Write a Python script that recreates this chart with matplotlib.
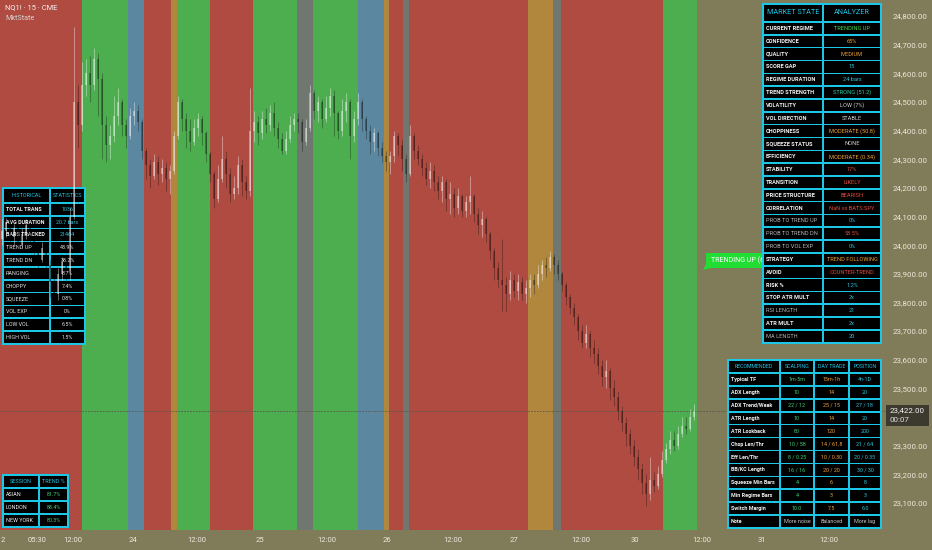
import matplotlib
matplotlib.use('Agg')
import matplotlib.pyplot as plt
from matplotlib.patches import Rectangle, Polygon
from matplotlib.transforms import Affine2D

plt.rcParams['font.family'] = ['Roboto', 'DejaVu Sans']

# ---------------- data ----------------
bar_open = [24020, 24050, 24080, 24030, 24060, 24000, 24040, 24070, 24020, 23990,
            23950, 23990, 23930, 23870, 23830, 23900, 23940, 23910, 24100, 24500,
            24420, 24560, 24600, 24560, 24650, 24580, 24420, 24350, 24380, 24450,
            24500, 24420, 24380, 24450, 24470, 24430, 24330, 24280, 24240, 24290,
            24250, 24270, 24230, 24260, 24380, 24500, 24440, 24400, 24360, 24410,
            24440, 24390, 24320, 24250, 24160, 24230, 24300, 24250, 24180, 24200,
            24280, 24220, 24190, 24400, 24430, 24390, 24440, 24420, 24460, 24410,
            24370, 24330, 24370, 24420, 24440, 24430, 24360, 24410, 24530, 24470,
            24500, 24440, 24480, 24520, 24460, 24400, 24470, 24500, 24380, 24440,
            24500, 24440, 24400, 24360, 24390, 24340, 24310, 24290, 24310, 24380,
            24350, 24300, 24250, 24380, 24330, 24300, 24270, 24230, 24260, 24220,
            24190, 24220, 24160, 24180, 24130, 24170, 24120, 24150, 24170, 24110,
            24070, 24090, 24040, 23980, 23920, 23880, 23860, 23830, 23880, 23840,
            23870, 23830, 23850, 23880, 23860, 23900, 23930, 23920, 23960, 23930,
            23900, 23860, 23820, 23780, 23750, 23700, 23660, 23690, 23640, 23620,
            23580, 23540, 23560, 23500, 23470, 23420, 23380, 23340, 23300, 23260,
            23220, 23170, 23130, 23180, 23160, 23200, 23250, 23290, 23320, 23300,
            23340, 23370, 23360, 23400]
bar_high = [24090, 24095, 24100, 24075, 24070, 24060, 24090, 24080, 24040, 24000,
            24010, 24000, 23950, 23900, 23920, 23960, 23970, 24130, 24760, 24560,
            24640, 24650, 24660, 24690, 24670, 24600, 24450, 24420, 24520, 24550,
            24510, 24440, 24480, 24500, 24490, 24440, 24340, 24300, 24320, 24310,
            24300, 24290, 24280, 24400, 24520, 24510, 24460, 24440, 24440, 24460,
            24450, 24400, 24330, 24260, 24280, 24380, 24330, 24270, 24240, 24310,
            24300, 24240, 24550, 24470, 24450, 24470, 24480, 24490, 24500, 24430,
            24390, 24400, 24450, 24460, 24460, 24440, 24440, 24560, 24540, 24520,
            24510, 24520, 24550, 24540, 24470, 24510, 24530, 24510, 24470, 24530,
            24510, 24450, 24420, 24410, 24400, 24360, 24330, 24330, 24400, 24390,
            24370, 24320, 24420, 24390, 24350, 24320, 24290, 24290, 24280, 24240,
            24240, 24230, 24220, 24200, 24200, 24180, 24170, 24240, 24180, 24130,
            24120, 24100, 24050, 23990, 23940, 24020, 23890, 23910, 23900, 23900,
            23890, 23880, 23900, 23900, 23930, 23950, 23960, 23980, 23970, 23950,
            23910, 23870, 23830, 23800, 23760, 23720, 23720, 23700, 23670, 23640,
            23600, 23600, 23570, 23530, 23490, 23440, 23400, 23360, 23320, 23290,
            23240, 23200, 23260, 23210, 23230, 23280, 23310, 23350, 23350, 23370,
            23400, 23400, 23430, 23445]
bar_low = [24000, 24030, 24010, 24000, 23980, 23990, 24020, 24000, 23960, 23920,
           23940, 23900, 23820, 23790, 23810, 23880, 23880, 23880, 24090, 24340,
           24400, 24520, 24500, 24540, 24450, 24300, 24290, 24300, 24360, 24420,
           24380, 24340, 24370, 24420, 24400, 24300, 24230, 24200, 24230, 24210,
           24220, 24190, 24180, 24250, 24370, 24400, 24340, 24330, 24350, 24380,
           24350, 24290, 24220, 24130, 24150, 24220, 24200, 24150, 24160, 24180,
           24170, 24160, 24170, 24360, 24350, 24370, 24390, 24400, 24380, 24340,
           24320, 24320, 24360, 24400, 24390, 24330, 24350, 24400, 24440, 24430,
           24410, 24430, 24450, 24380, 24370, 24380, 24430, 24300, 24360, 24420,
           24400, 24370, 24320, 24330, 24310, 24290, 24260, 24250, 24290, 24310,
           24260, 24220, 24240, 24300, 24280, 24240, 24210, 24200, 24190, 24160,
           24150, 24120, 24110, 24100, 24110, 24100, 24100, 24110, 24080, 24040,
           24030, 24010, 23950, 23880, 23850, 23770, 23770, 23810, 23820, 23810,
           23810, 23800, 23820, 23830, 23850, 23880, 23890, 23910, 23900, 23880,
           23840, 23790, 23760, 23720, 23670, 23640, 23640, 23610, 23590, 23550,
           23510, 23500, 23460, 23440, 23390, 23350, 23300, 23270, 23230, 23180,
           23130, 23090, 23110, 23140, 23150, 23190, 23240, 23270, 23280, 23290,
           23330, 23340, 23350, 23390]
bar_close = [24050, 24080, 24030, 24060, 24000, 24040, 24070, 24020, 23990, 23950,
             23990, 23930, 23870, 23830, 23900, 23940, 23910, 24100, 24500, 24420,
             24560, 24600, 24560, 24650, 24580, 24420, 24350, 24380, 24450, 24500,
             24420, 24380, 24450, 24470, 24430, 24330, 24280, 24240, 24290, 24250,
             24270, 24230, 24260, 24380, 24500, 24440, 24400, 24360, 24410, 24440,
             24390, 24320, 24250, 24160, 24230, 24300, 24250, 24180, 24200, 24280,
             24220, 24190, 24400, 24430, 24390, 24440, 24420, 24460, 24410, 24370,
             24330, 24370, 24420, 24440, 24430, 24360, 24410, 24530, 24470, 24500,
             24440, 24480, 24520, 24460, 24400, 24470, 24500, 24380, 24440, 24500,
             24440, 24400, 24360, 24390, 24340, 24310, 24290, 24310, 24380, 24350,
             24300, 24250, 24380, 24330, 24300, 24270, 24230, 24260, 24220, 24190,
             24220, 24160, 24180, 24130, 24170, 24120, 24150, 24170, 24110, 24070,
             24090, 24040, 23980, 23920, 23880, 23860, 23830, 23880, 23840, 23870,
             23830, 23850, 23880, 23860, 23900, 23930, 23920, 23960, 23930, 23900,
             23860, 23820, 23780, 23750, 23700, 23660, 23690, 23640, 23620, 23580,
             23540, 23560, 23500, 23470, 23420, 23380, 23340, 23300, 23260, 23220,
             23170, 23130, 23180, 23160, 23200, 23250, 23290, 23320, 23300, 23340,
             23370, 23360, 23400, 23422]
last_price = 23422

# regime background bands (edges in bar units)
band_edges = [-0.5, 20, 31.5, 35.5, 42.25, 43.75, 52, 62.75, 73.75, 77.75, 89,
              95.5, 96.75, 100.25, 101.75, 131.5, 137.75, 139.75, 165.25, 173.75]
band_regimes = ['down', 'up', 'range', 'down', 'chop', 'up', 'down', 'up', 'lowvol',
                'up', 'range', 'chop', 'down', 'lowvol', 'down', 'chop', 'lowvol',
                'down', 'up']
regime_colors = {'up': '#4cae4f', 'down': '#b04b41', 'range': '#5b87a0',
                 'chop': '#b0873c', 'lowvol': '#6f7770'}

x_tick_pos = [0.25, 8.75, 17.75, 32.75, 48.75, 64.5, 81.25, 96.25, 112.75, 128,
              144.75, 158.25, 175, 190, 206.75]
x_tick_labels = ['2', '05:30', '12:00', '24', '12:00', '25', '12:00', '26', '12:00',
                 '27', '12:00', '30', '12:00', '31', '12:00']
y_ticks = [23100, 23200, 23300, 23500, 23600, 23700, 23800, 23900, 24000, 24100,
           24200, 24300, 24400, 24500, 24600, 24700, 24800]

market_labels = ['CURRENT REGIME', 'CONFIDENCE', 'QUALITY', 'SCORE GAP', 'REGIME DURATION',
                 'TREND STRENGTH', 'VOLATILITY', 'VOL DIRECTION', 'CHOPPINESS',
                 'SQUEEZE STATUS', 'EFFICIENCY', 'STABILITY', 'TRANSITION',
                 'PRICE STRUCTURE', 'CORRELATION', 'PROB TO TREND UP', 'PROB TO TREND DN',
                 'PROB TO VOL EXP', 'STRATEGY', 'AVOID', 'RISK %', 'STOP ATR MULT',
                 'RSI LENGTH', 'ATR MULT', 'MA LENGTH']
market_values = ['TRENDING UP', '65%', 'MEDIUM', '15', '24 bars', 'STRONG (51.2)', 'LOW (7%)',
                 'STABLE', 'MODERATE (50.8)', 'NONE', 'MODERATE (0.34)', '17%', 'LIKELY',
                 'BEARISH', 'NaN vs BATS:SPY', '0%', '58.5%', '0%', 'TREND FOLLOWING',
                 'COUNTER-TREND', '1.2%', '2x', '21', '2x', '20']
market_value_tone = ['green', 'orange', 'orange', 'cyan', 'cyan', 'teal', 'grey', 'grey',
                     'orange', 'grey', 'orange', 'red', 'red', 'red', 'red', 'cyan', 'red',
                     'cyan', 'orange', 'red', 'cyan', 'cyan', 'cyan', 'cyan', 'cyan']
market_dim_labels = ['PROB TO TREND UP', 'PROB TO TREND DN', 'PROB TO VOL EXP',
                     'RSI LENGTH', 'MA LENGTH']

hist_labels = ['TOTAL TRANS', 'AVG DURATION', 'BARS TRACKED', 'TREND UP', 'TREND DN',
               'RANGING', 'CHOPPY', 'SQUEEZE', 'VOL EXP', 'LOW VOL', 'HIGH VOL']
hist_values = ['1036', '20.7 bars', '21464', '43.9%', '38.2%', '8.7%', '7.4%', '0.8%',
               '0%', '6.5%', '1.5%']

session_labels = ['ASIAN', 'LONDON', 'NEW YORK']
session_values = ['81.7%', '88.4%', '80.3%']

rec_header = ['RECOMMENDED', 'SCALPING', 'DAY TRADE', 'POSITION']
rec_labels = ['Typical TF', 'ADX Length', 'ADX Trend/Weak', 'ATR Length', 'ATR Lookback',
              'Chop Len/Thr', 'Eff Len/Thr', 'BB/KC Length', 'Squeeze Min Bars',
              'Min Regime Bars', 'Switch Margin', 'Note']
rec_scalp = ['1m-5m', '10', '22 / 12', '10', '80', '10 / 58', '8 / 0.25', '16 / 16', '4',
             '4', '10.0', 'More noise']
rec_day = ['15m-1h', '14', '25 / 15', '14', '120', '14 / 61.8', '10 / 0.30', '20 / 20', '6',
           '3', '7.5', 'Balanced']
rec_pos = ['4h-1D', '20', '27 / 18', '20', '200', '21 / 64', '20 / 0.35', '30 / 30', '8',
           '3', '6.0', 'More lag']

# ---------------- styling ----------------
W, H = 932, 550
BG = '#807b58'
CYAN = '#1cc6e6'
TONE = {'green': '#3fdc4c', 'orange': '#f0a236', 'cyan': '#2cc2dc', 'teal': '#2ec9a4',
        'grey': '#d0d0d0', 'red': '#e24b3c', 'white': '#f2f2f2', 'dim': '#b4b4b4',
        'scalp': '#3ccf78'}

fig = plt.figure(figsize=(W / 100, H / 100), dpi=100, facecolor=BG)
ax = fig.add_axes([0, 20 / H, 888 / W, 530 / H])
ax.set_facecolor(BG)
pix = Affine2D().scale(1 / 100, -1 / 100).translate(0, H / 100) + fig.dpi_scale_trans

for k, reg in enumerate(band_regimes):
    ax.axvspan(band_edges[k], band_edges[k + 1], color=regime_colors[reg], lw=0, zorder=0)

ax.axhline(last_price, color='#5a584a', lw=0.6, ls=(0, (2, 1.5)), zorder=1)

# candles
xs = list(range(len(bar_close)))
up_col, dn_col = (1, 1, 1, 0.4), (0, 0, 0, 0.3)
cols = [up_col if c >= o else dn_col for o, c in zip(bar_open, bar_close)]
ax.vlines(xs, bar_low, bar_high, colors=cols, lw=0.7, zorder=3)
ax.bar(xs, [max(abs(c - o), 4) for o, c in zip(bar_open, bar_close)],
       bottom=[min(o, c) for o, c in zip(bar_open, bar_close)],
       width=0.4, color=cols, lw=0, zorder=3)

ax.set_xlim(-0.5, 221.5)
ax.set_ylim(24800 - 514 / 0.2865, 24800 + 16 / 0.2865)
ax.yaxis.tick_right()
ax.set_yticks(y_ticks)
ax.set_yticklabels([f'{v:,.2f}' for v in y_ticks])
ax.set_xticks(x_tick_pos)
ax.set_xticklabels(x_tick_labels)
ax.tick_params(axis='y', length=0, pad=3, labelsize=5.7, labelcolor='#ece9dc')
ax.tick_params(axis='x', length=0, pad=5, labelsize=5.5, labelcolor='#ece9dc')
for s in ax.spines.values():
    s.set_visible(False)


def ptext(x, y, s, color, size, weight='normal', ha='left', z=6):
    return ax.text(x, y, s, transform=pix, color=color, fontsize=size, fontweight=weight,
                   ha=ha, va='center', zorder=z, clip_on=False)


def draw_table(xe, ye, rows, z, head_size, row_size):
    ax.add_patch(Rectangle((xe[0] - 0.8, ye[0] - 0.8), xe[-1] - xe[0] + 1.6,
                           ye[-1] - ye[0] + 1.6, transform=pix, fc=CYAN, ec='none',
                           zorder=z, clip_on=False))
    for r in range(len(ye) - 1):
        for c in range(len(xe) - 1):
            ax.add_patch(Rectangle((xe[c] + 0.8, ye[r] + 0.8), xe[c + 1] - xe[c] - 1.6,
                                   ye[r + 1] - ye[r] - 1.6, transform=pix, fc='black',
                                   ec='none', zorder=z, clip_on=False))
            text, color, weight = rows[r][c]
            yc = (ye[r] + ye[r + 1]) / 2
            size = head_size if r == 0 else row_size
            if r > 0 and c == 0:
                ptext(xe[c] + 3, yc, text, color, size, weight, 'left', z + 0.5)
            else:
                ptext((xe[c] + xe[c + 1]) / 2, yc, text, color, size, weight, 'center', z + 0.5)


# historical statistics (left)
h_rows = [[('HISTORICAL', CYAN, 'normal'), ('STATISTICS', CYAN, 'normal')]]
for k, (lab, val) in enumerate(zip(hist_labels, hist_values)):
    bold = k < 3
    h_rows.append([(lab, TONE['white'] if bold else '#e2e2e2', 'bold' if bold else 'normal'),
                   (val, TONE['cyan'] if bold else '#e2e2e2', 'normal')])
draw_table([3, 50, 85], [188, 203] + [203 + 12.8 * k for k in range(1, 12)], h_rows, 2,
           3.9, 3.9)

# session table
s_rows = [[('SESSION', CYAN, 'normal'), ('TREND %', CYAN, 'normal')]]
for lab, val in zip(session_labels, session_values):
    s_rows.append([(lab, TONE['white'], 'normal'), (val, TONE['scalp'], 'normal')])
draw_table([3, 39, 68], [475, 488, 501, 514, 527], s_rows, 5, 3.9, 3.9)

# recommended table
r_rows = [[(t, CYAN, 'normal') for t in rec_header]]
for k, lab in enumerate(rec_labels):
    if lab == 'Note':
        tones = ['#c8c8c8'] * 3
    else:
        tones = [TONE['scalp'], TONE['orange'], TONE['cyan']]
    r_rows.append([(lab, TONE['white'], 'bold'), (rec_scalp[k], tones[0], 'normal'),
                   (rec_day[k], tones[1], 'normal'), (rec_pos[k], tones[2], 'normal')])
draw_table([728, 780, 814, 849, 881], [360, 373] + [373 + 12.92 * k for k in range(1, 13)],
           r_rows, 5, 3.8, 3.9)

# regime label (partly hidden behind the analyzer table)
ax.add_patch(Polygon([(706, 253), (790, 253), (790, 268), (711, 268), (703, 270), (706, 264)],
                     closed=True, transform=pix, fc='#22dd33', ec='none', zorder=4,
                     clip_on=False))
lbl = ptext(711, 260.5, 'TRENDING UP (65%)', 'white', 5.0, 'normal', 'left', 4.5)
lbl.set_clip_path(Rectangle((700, 250), 62, 20, transform=pix))
lbl.set_clip_on(True)

# market state analyzer
m_rows = [[('MARKET STATE', CYAN, 'normal'), ('ANALYZER', CYAN, 'normal')]]
for lab, val, tone in zip(market_labels, market_values, market_value_tone):
    dim = lab in market_dim_labels
    m_rows.append([(lab, TONE['dim'] if dim else TONE['white'], 'normal' if dim else 'bold'),
                   (val, TONE[tone], 'normal')])
draw_table([763, 823, 881], [4, 22] + [22 + 12.83 * k for k in range(1, 26)], m_rows, 7,
           5.2, 4.1)

# last price tag
ax.add_patch(Rectangle((886, 405), 43, 21, transform=pix, fc='#3c3a2e', ec='none',
                       zorder=6, clip_on=False))
ptext(890, 410.5, f'{last_price:,.2f}', '#f4f4f4', 5.7, z=7)
ptext(890, 420.5, '00:07', '#e0e0e0', 5.7, z=7)

# symbol title
ptext(5, 8, 'NQ1! · 15 · CME', '#f4f4f4', 5.4, z=7)
ptext(5, 19, 'MktState', '#d4d4d4', 5.2, z=7)

fig.savefig('out.png', dpi=100, facecolor=BG)
